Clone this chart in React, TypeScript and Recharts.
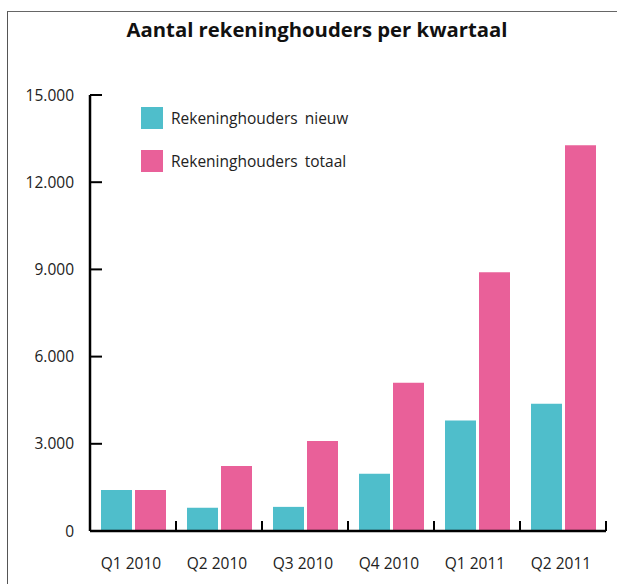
import React from 'react';
import { BarChart, Bar, XAxis, YAxis, Legend } from 'recharts';

const quarters = ['Q1 2010', 'Q2 2010', 'Q3 2010', 'Q4 2010', 'Q1 2011', 'Q2 2011'];
const nieuw = [1410, 800, 830, 1970, 3800, 4380];
const totaal = [1410, 2240, 3100, 5100, 8900, 13270];
const yTicks = [0, 3000, 6000, 9000, 12000, 15000];

const TEAL = '#4FBECB';
const PINK = '#E96099';
const FONT = '"Open Sans", sans-serif';

const data = quarters.map((q, i) => ({ q, nieuw: nieuw[i], totaal: totaal[i] }));

const fmt = (v: number) => (v === 0 ? '0' : v.toLocaleString('de-DE'));

// label in the middle of the band, tick line on the right edge of the band pointing up
const QuarterTick = (props: any) => {
  const { x, y, payload } = props;
  const edge = x + (payload.offset || 0);
  return (
    <g>
      <line x1={edge} x2={edge} y1={y - 10} y2={y} stroke="#000" strokeWidth={2} />
      <text x={x - 2} y={y + 38} textAnchor="middle" fill="#222" fontSize={15.5} fontFamily={FONT}>
        {payload.value}
      </text>
    </g>
  );
};

const LegendBox = ({ payload }: any) => (
  <div style={{ fontFamily: FONT, fontSize: 15.5, color: '#222' }}>
    {(payload || []).map((p: any) => (
      <div key={p.value} style={{ display: 'flex', alignItems: 'center', height: 22, marginBottom: 21 }}>
        <span style={{ width: 22, height: 22, background: p.color, display: 'inline-block', marginRight: 8 }} />
        <span style={{ wordSpacing: 3 }}>{p.value}</span>
      </div>
    ))}
  </div>
);

export default function App() {
  return (
    <div style={{ position: 'absolute', left: 0, top: 0, width: 617, height: 584, background: '#fff' }}>
      <div
        style={{
          position: 'absolute',
          left: 7,
          top: 11,
          right: 0,
          bottom: 0,
          borderLeft: '1.5px solid #555',
          borderTop: '1.5px solid #666'
        }}
      />
      <div
        style={{
          position: 'absolute',
          left: 0,
          width: 634,
          top: 15,
          textAlign: 'center',
          fontFamily: FONT,
          fontWeight: 700,
          fontSize: 20.3,
          color: '#111'
        }}
      >
        Aantal rekeninghouders per kwartaal
      </div>
      <BarChart
        width={617}
        height={584}
        data={data}
        margin={{ top: 95, right: 11, left: 0, bottom: 0 }}
        barSize={31}
        barGap={3}
        style={{ position: 'absolute', left: 0, top: 0 }}
      >
        <XAxis
          dataKey="q"
          height={53}
          axisLine={{ stroke: '#000', strokeWidth: 2.5 }}
          tickLine={false}
          tickSize={0}
          tickMargin={0}
          tick={<QuarterTick />}
          interval={0}
        />
        <YAxis
          width={90}
          domain={[0, 15000]}
          ticks={yTicks}
          tickFormatter={fmt}
          axisLine={{ stroke: '#000', strokeWidth: 2.5 }}
          tickLine={{ stroke: '#000', strokeWidth: 2 }}
          tickSize={-12}
          tickMargin={28}
          tick={{ fill: '#222', fontSize: 15.5, fontFamily: FONT }}
          interval={0}
        />
        <Legend
          layout="vertical"
          verticalAlign="middle"
          align="center"
          content={<LegendBox />}
          wrapperStyle={{ left: 141, top: 107, width: 260 }}
        />
        <Bar dataKey="nieuw" name="Rekeninghouders nieuw" fill={TEAL} isAnimationActive={false} />
        <Bar dataKey="totaal" name="Rekeninghouders totaal" fill={PINK} isAnimationActive={false} />
      </BarChart>
    </div>
  );
}
